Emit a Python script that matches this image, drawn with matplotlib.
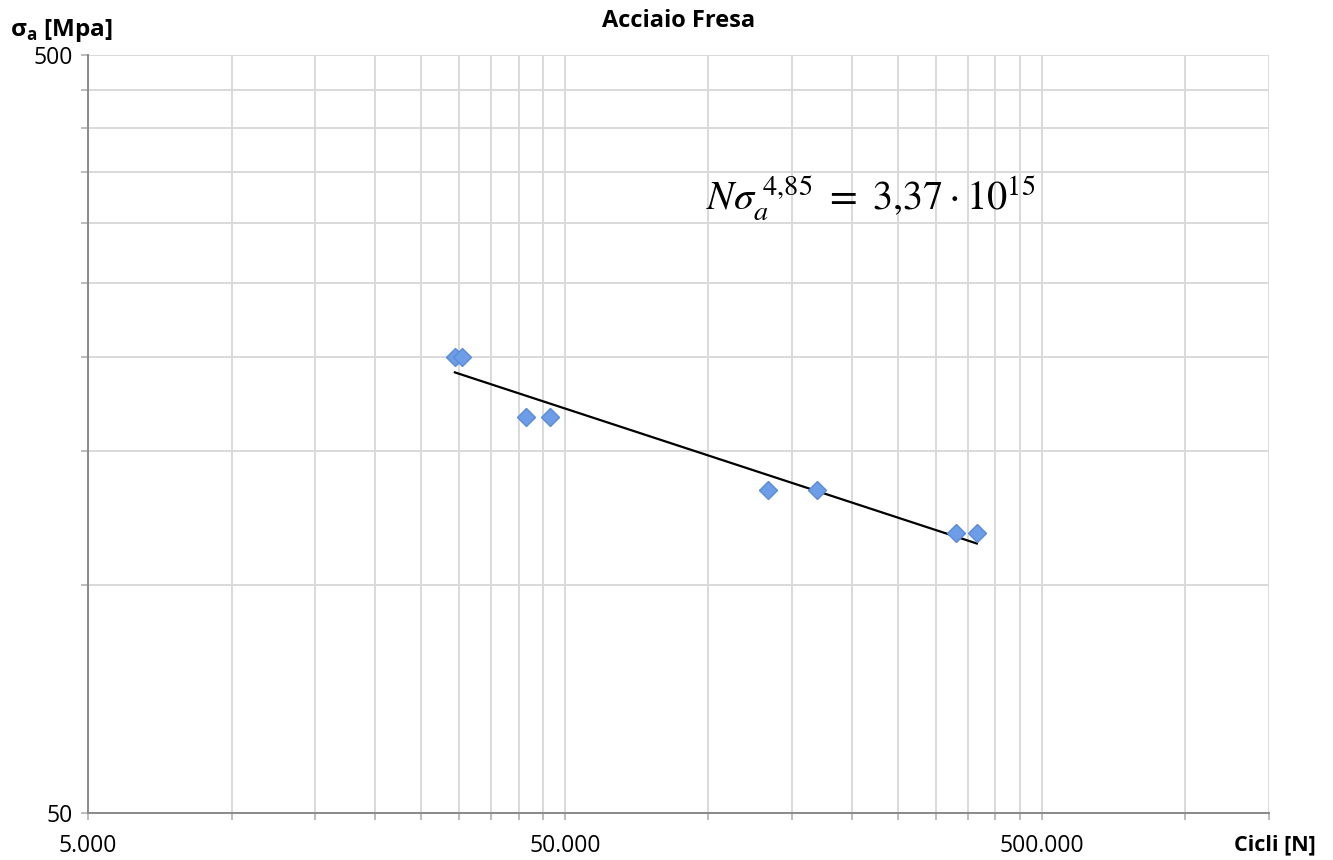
import numpy as np
import matplotlib
matplotlib.use("Agg")
import matplotlib.pyplot as plt
from matplotlib.ticker import FixedLocator, NullFormatter, FuncFormatter

# dati
cicli = [29400, 30400, 41400, 46500, 133400, 169300, 331000, 365800]
sigma_a = [200, 200, 166.7, 166.7, 133.4, 133.4, 117.2, 117.2]

# curva di Wohler: N * sigma^m = C
m = 4.85
C = 3.37e15

x_lim = [5000, 1500000]
y_lim = [50, 500]
x_major = [5000, 50000, 500000]
x_minor = [10000, 15000, 20000, 25000, 30000, 35000, 40000, 45000,
           100000, 150000, 200000, 250000, 300000, 350000, 400000, 450000,
           1000000, 1500000]
y_major = [50, 500]
y_minor = [100, 150, 200, 250, 300, 350, 400, 450]

plt.rcParams['font.family'] = ['Open Sans', 'DejaVu Sans']

fig = plt.figure(figsize=(13.33, 8.6), dpi=100)
ax = fig.add_axes([88/1333, 1-813/860, (1269-88)/1333, (813-55)/860])

ax.set_xscale('log')
ax.set_yscale('log')
ax.set_xlim(x_lim)
ax.set_ylim(y_lim)

ax.xaxis.set_major_locator(FixedLocator(x_major))
ax.xaxis.set_minor_locator(FixedLocator(x_minor))
ax.yaxis.set_major_locator(FixedLocator(y_major))
ax.yaxis.set_minor_locator(FixedLocator(y_minor))
ax.xaxis.set_minor_formatter(NullFormatter())
ax.yaxis.set_minor_formatter(NullFormatter())
ax.xaxis.set_major_formatter(FuncFormatter(lambda v, p: f"{v:,.0f}".replace(",", ".")))
ax.yaxis.set_major_formatter(FuncFormatter(lambda v, p: f"{v:.0f}"))

ax.grid(True, which='both', color='#d9d9d9', linewidth=1.4)
ax.set_axisbelow(True)

for s in ['top', 'right']:
    ax.spines[s].set_visible(False)
for s in ['left', 'bottom']:
    ax.spines[s].set_color('#8a8a8a')
    ax.spines[s].set_linewidth(1.4)

ax.tick_params(which='both', direction='out', color='#b0b0b0', length=5, width=1.2,
               labelsize=16.5, labelcolor='black')
ax.tick_params(axis='x', which='major', pad=10)
ax.tick_params(axis='y', which='major', pad=6)

# linea di tendenza
n_line = np.array([min(cicli), max(cicli)])
ax.plot(n_line, (C / n_line) ** (1 / m), color='black', linewidth=1.6, zorder=3)

ax.plot(cicli, sigma_a, linestyle='none', marker='D', markersize=9,
        markerfacecolor='#6d9de6', markeredgecolor='#5b8bd6', markeredgewidth=1, zorder=4)

ax.text(0.523, 0.795, r'$N\sigma_a^{\ 4{,}85}\ =\ 3{,}37\cdot 10^{15}$', transform=ax.transAxes,
        fontsize=29, va='baseline', ha='left', math_fontfamily='stix')

ax.set_title('Acciaio Fresa', fontsize=17, fontweight='bold', pad=20)
fig.text(10/1333, 1-30/860, r'σ$_\mathregular{a}$ [Mpa]', fontsize=17.5, fontweight='bold',
         va='center', ha='left')
fig.text(1316/1333, 1-845/860, 'Cicli [N]', fontsize=15.5, fontweight='bold',
         va='center', ha='right')

fig.savefig('out.png', dpi=100)
